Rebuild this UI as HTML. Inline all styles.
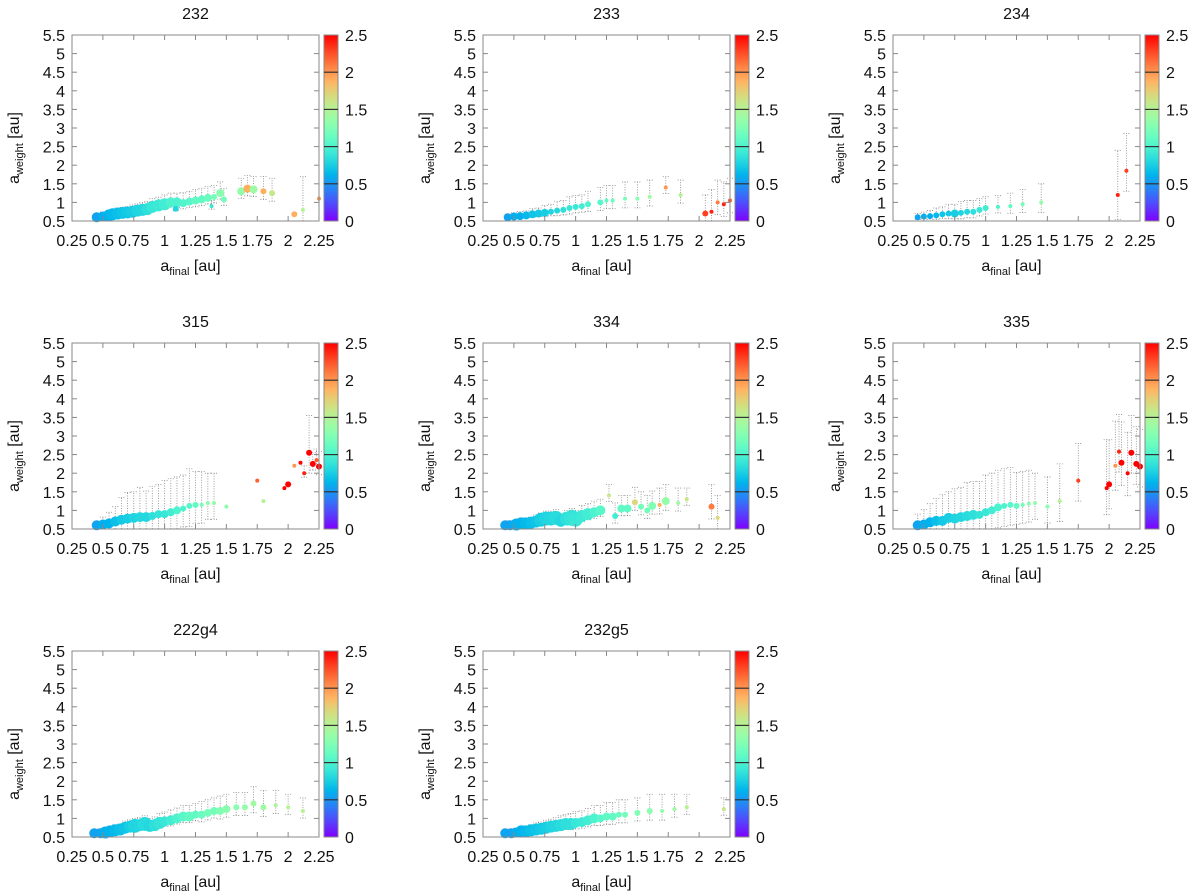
<!DOCTYPE html>
<html><head><meta charset="utf-8"><style>
html,body{margin:0;padding:0;background:#fff;}
svg{display:block;font-family:"Liberation Sans",sans-serif;}
</style></head><body>
<svg id="fig" width="1200" height="894" viewBox="0 0 1200 894" xmlns="http://www.w3.org/2000/svg">
<defs>
<linearGradient id="rainbow" x1="0" y1="1" x2="0" y2="0"></linearGradient>
</defs>
</svg>
<script>
// ---- shared axis data ----
const xTicks = [0.25,0.5,0.75,1,1.25,1.5,1.75,2,2.25];
const xTickLabels = ["0.25","0.5","0.75","1","1.25","1.5","1.75","2","2.25"];
const yTicks = [0.5,1,1.5,2,2.5,3,3.5,4,4.5,5,5.5];
const yTickLabels = ["0.5","1","1.5","2","2.5","3","3.5","4","4.5","5","5.5"];
const cbTicks = [0,0.5,1,1.5,2,2.5];
const cbTickLabels = ["0","0.5","1","1.5","2","2.5"];

// ---- panel 232 ----
const p232_x = [0.45,0.5,0.55,0.58,0.62,0.66,0.7,0.74,0.78,0.82,0.86,0.9,0.95,1.0,1.05,1.1,1.15,1.2,1.25,1.3,1.35,1.4,1.45,1.48,1.62,1.67,1.72,1.8,1.87,2.05,2.12,2.25,1.09,1.38];
const p232_y = [0.6,0.62,0.65,0.68,0.7,0.72,0.73,0.75,0.78,0.8,0.82,0.88,0.92,0.95,1.0,1.0,0.98,1.02,1.05,1.08,1.12,1.15,1.25,1.08,1.3,1.37,1.35,1.3,1.25,0.68,0.8,1.1,0.83,0.9];
const p232_c = [0.55,0.6,0.62,0.65,0.68,0.7,0.72,0.75,0.78,0.8,0.85,0.9,0.92,0.95,1.0,1.0,1.02,1.05,1.1,1.1,1.15,1.2,1.3,1.2,1.35,1.9,1.4,1.9,1.6,1.9,1.5,2.0,0.8,0.9];
const p232_r = [5,5,6,6,6,6,6,6,6,6,6,6,6,6,5,5,4,4,4,4,4,3,4,3,4,4,4,3,3,3,2,2,3,2];
const p232_e = [0.1,0.12,0.12,0.14,0.15,0.15,0.16,0.18,0.18,0.2,0.2,0.22,0.22,0.25,0.25,0.25,0.28,0.28,0.3,0.3,0.3,0.3,0.3,0.3,0.35,0.35,0.35,0.4,0.4,0.0,0.9,0.0,0.1,0.15];

// ---- panel 233 ----
const p233_x = [0.45,0.5,0.55,0.6,0.65,0.7,0.75,0.8,0.85,0.9,0.95,1.0,1.05,1.1,1.2,1.25,1.3,1.4,1.5,1.6,1.73,1.85,2.05,2.1,2.15,2.2,2.25];
const p233_y = [0.6,0.62,0.63,0.65,0.68,0.7,0.72,0.75,0.78,0.8,0.85,0.88,0.9,0.95,1.0,1.05,1.05,1.1,1.1,1.15,1.4,1.2,0.7,0.75,1.0,0.95,1.05];
const p233_c = [0.55,0.6,0.6,0.65,0.7,0.72,0.75,0.78,0.8,0.85,0.9,0.92,0.95,1.0,1.05,1.1,1.15,1.2,1.3,1.4,2.0,1.5,2.3,2.4,2.1,2.4,2.2];
const p233_r = [4,4,4,4,4,4,4,3,3,3,3,3,3,3,3,2,2,2,2,2,2,2,3,2,2,2,2];
const p233_e = [0.08,0.1,0.12,0.12,0.15,0.15,0.2,0.2,0.25,0.25,0.3,0.3,0.3,0.35,0.4,0.4,0.4,0.45,0.45,0.45,0.3,0.4,0.5,0.6,0.6,0.6,0.6];

// ---- panel 234 ----
const p234_x = [0.45,0.5,0.55,0.6,0.65,0.7,0.75,0.8,0.85,0.9,0.95,1.0,1.1,1.2,1.3,1.45,2.07,2.14];
const p234_y = [0.6,0.62,0.63,0.65,0.68,0.7,0.7,0.72,0.75,0.75,0.8,0.85,0.88,0.9,0.95,1.0,1.2,1.85];
const p234_c = [0.55,0.6,0.6,0.65,0.7,0.72,0.75,0.78,0.8,0.85,0.9,0.95,1.0,1.1,1.2,1.35,2.4,2.3];
const p234_r = [3,3,3,3,3,3,4,3,3,3,3,3,2,2,2,2,2,2];
const p234_e = [0.1,0.12,0.15,0.2,0.2,0.25,0.25,0.3,0.3,0.3,0.3,0.3,0.3,0.35,0.4,0.5,1.2,1.0];

// ---- panel 315 ----
const p315_x = [0.45,0.5,0.55,0.6,0.65,0.7,0.75,0.8,0.85,0.9,0.95,1.0,1.05,1.1,1.15,1.2,1.25,1.3,1.35,1.4,1.5,1.75,1.8,1.97,2.0,2.05,2.1,2.13,2.17,2.2,2.23,2.25];
const p315_y = [0.6,0.62,0.65,0.7,0.75,0.78,0.8,0.82,0.82,0.85,0.9,0.9,0.95,1.0,1.05,1.12,1.15,1.15,1.2,1.2,1.1,1.8,1.25,1.6,1.7,2.2,2.28,2.0,2.55,2.25,2.35,2.18];
const p315_c = [0.55,0.6,0.62,0.68,0.72,0.75,0.78,0.8,0.8,0.85,0.88,0.9,0.95,1.0,1.0,1.05,1.1,1.2,1.3,1.35,1.3,2.2,1.5,2.5,2.5,2.0,2.5,2.4,2.5,2.5,2.2,2.5];
const p315_r = [5,5,5,5,5,5,5,5,5,4,4,4,4,4,3,3,3,2,2,2,2,2,2,2,3,2,2,2,3,3,2,3];
const p315_e = [0.1,0.2,0.3,0.4,0.6,0.7,0.7,0.8,0.7,0.8,0.8,0.9,0.9,0.9,0.9,1.0,0.9,0.9,0.8,0.8,0,0,0,0,0,0,0,0.2,1.0,0.3,0.3,0.4];

// ---- panel 334 ----
const p334_x = [0.43,0.47,0.52,0.56,0.6,0.64,0.68,0.72,0.76,0.8,0.84,0.88,0.93,0.97,1.0,1.05,1.1,1.15,1.2,1.27,1.32,1.37,1.42,1.48,1.53,1.58,1.62,1.68,1.73,1.83,1.9,2.1,2.15];
const p334_y = [0.6,0.6,0.62,0.65,0.65,0.67,0.7,0.75,0.78,0.78,0.8,0.72,0.78,0.8,0.75,0.85,0.9,0.95,1.0,1.4,0.85,1.05,1.05,1.22,1.1,1.0,1.12,1.15,1.25,1.2,1.3,1.1,0.8];
const p334_c = [0.55,0.55,0.6,0.62,0.65,0.68,0.7,0.75,0.78,0.8,0.82,0.8,0.85,0.88,0.9,0.92,0.95,1.0,1.05,1.6,0.95,1.1,1.1,1.7,1.2,1.2,1.25,1.9,1.35,1.4,1.6,2.1,1.7];
const p334_r = [5,5,6,6,6,6,6,7,7,7,7,6,7,8,7,6,6,5,5,2,3,4,4,3,3,3,4,2,4,2,2,3,2];
const p334_e = [0.1,0.12,0.12,0.14,0.15,0.15,0.18,0.18,0.2,0.2,0.22,0.2,0.22,0.25,0.25,0.28,0.28,0.3,0.3,0.3,0.35,0.35,0.35,0.4,0.4,0.4,0.4,0.45,0.45,0.4,0.3,0.6,0.6];

// ---- panel 335 ----
const p335_x = [0.45,0.5,0.55,0.6,0.65,0.7,0.75,0.8,0.85,0.9,0.95,1.0,1.05,1.1,1.15,1.2,1.25,1.3,1.35,1.4,1.5,1.6,1.75,1.98,2.0,2.05,2.08,2.1,2.15,2.18,2.22,2.25];
const p335_y = [0.6,0.62,0.68,0.72,0.72,0.8,0.78,0.82,0.85,0.88,0.88,0.95,1.0,1.08,1.12,1.15,1.12,1.15,1.18,1.2,1.1,1.25,1.8,1.6,1.7,2.2,2.58,2.28,2.0,2.55,2.25,2.18];
const p335_c = [0.55,0.6,0.62,0.68,0.72,0.75,0.78,0.8,0.82,0.85,0.88,0.9,0.95,1.0,1.0,1.05,1.1,1.2,1.3,1.35,1.3,1.5,2.3,2.5,2.5,2.0,2.4,2.5,2.5,2.5,2.5,2.5];
const p335_r = [5,5,5,5,5,5,5,5,5,5,4,4,4,4,3,3,3,2,2,2,2,2,2,2,3,2,2,3,2,3,3,3];
const p335_e = [0.3,0.4,0.5,0.6,0.7,0.7,0.8,0.8,0.9,0.9,0.9,1.0,1.0,1.0,1.0,1.0,0.9,0.9,0.9,0.8,0.8,1.0,1.0,1.3,1.2,1.2,1.0,1.1,1.1,1.0,1.0,1.0];

// ---- panel 222g4 ----
const p222g4_x = [0.43,0.48,0.52,0.56,0.6,0.64,0.68,0.72,0.76,0.8,0.84,0.88,0.92,0.96,1.0,1.05,1.1,1.15,1.2,1.25,1.3,1.35,1.4,1.45,1.5,1.58,1.65,1.72,1.8,1.9,2.0,2.12];
const p222g4_y = [0.6,0.6,0.62,0.65,0.68,0.7,0.75,0.78,0.8,0.82,0.85,0.8,0.82,0.88,0.92,0.95,1.0,1.05,1.05,1.1,1.1,1.15,1.2,1.2,1.25,1.3,1.3,1.4,1.3,1.35,1.3,1.2];
const p222g4_c = [0.55,0.55,0.6,0.62,0.65,0.68,0.7,0.75,0.78,0.8,0.82,0.8,0.85,0.88,0.9,0.95,1.0,1.05,1.1,1.1,1.15,1.2,1.2,1.25,1.3,1.3,1.35,1.4,1.4,1.45,1.5,1.5];
const p222g4_r = [5,5,6,6,6,6,6,6,7,6,7,6,6,6,5,5,5,5,5,4,4,4,4,4,4,3,3,3,3,2,2,2];
const p222g4_e = [0.1,0.12,0.12,0.14,0.15,0.15,0.18,0.18,0.2,0.2,0.22,0.2,0.22,0.25,0.25,0.28,0.28,0.3,0.3,0.3,0.35,0.35,0.35,0.4,0.4,0.4,0.4,0.45,0.45,0.4,0.35,0.35];

// ---- panel 232g5 ----
const p232g5_x = [0.43,0.48,0.52,0.56,0.6,0.64,0.68,0.72,0.76,0.8,0.84,0.88,0.92,0.96,1.0,1.05,1.1,1.15,1.2,1.25,1.3,1.35,1.4,1.5,1.6,1.7,1.8,1.9,2.2];
const p232g5_y = [0.6,0.6,0.62,0.65,0.65,0.68,0.7,0.72,0.75,0.78,0.8,0.82,0.85,0.85,0.88,0.9,0.95,1.0,1.0,1.05,1.05,1.1,1.1,1.15,1.2,1.2,1.25,1.3,1.25];
const p232g5_c = [0.55,0.55,0.6,0.62,0.65,0.68,0.7,0.72,0.75,0.78,0.8,0.82,0.85,0.85,0.9,0.92,0.95,1.0,1.05,1.1,1.1,1.15,1.2,1.25,1.3,1.35,1.4,1.5,1.6];
const p232g5_r = [5,5,5,6,6,6,6,6,6,6,6,6,6,6,5,5,5,5,4,4,4,3,3,3,3,2,2,2,2];
const p232g5_e = [0.1,0.12,0.12,0.14,0.15,0.15,0.18,0.18,0.2,0.2,0.22,0.25,0.25,0.28,0.3,0.3,0.32,0.35,0.35,0.38,0.38,0.4,0.4,0.4,0.45,0.45,0.4,0.35,0.3];

const NS = "http://www.w3.org/2000/svg";
const svg = document.getElementById('fig');
const W = 247, H = 186, XMIN = 0.25, XMAX = 2.25, YMIN = 0.5, YMAX = 5.5, CMAX = 2.5;

function cmap(v){
  const t = Math.max(0, Math.min(1, v / CMAX));
  const r = Math.min(1, Math.abs(2*t - 0.5));
  const g = Math.max(0, Math.sin(Math.PI*t));
  const b = Math.max(0, Math.cos(Math.PI*t/2));
  return 'rgb(' + Math.round(r*255) + ',' + Math.round(g*255) + ',' + Math.round(b*255) + ')';
}
(function(){
  const grad = document.getElementById('rainbow');
  for (let i = 0; i <= 20; i++) {
    const s = document.createElementNS(NS, 'stop');
    s.setAttribute('offset', (i/20));
    s.setAttribute('stop-color', cmap(CMAX*i/20));
    grad.appendChild(s);
  }
})();

function mk(tag, attrs, parent){
  const e = document.createElementNS(NS, tag);
  for (const k in attrs) e.setAttribute(k, attrs[k]);
  (parent || svg).appendChild(e);
  return e;
}

function drawPanel(ox, oy, title, xs, ys, cs, rs, es){
  const g = mk('g', {});
  
  
  const sx = v => ox + (v - XMIN) / (XMAX - XMIN) * W;
  const sy = v => oy + H - (v - YMIN) / (YMAX - YMIN) * H;

  const t = mk('text', {x: ox + W/2, y: oy - 16, 'font-size': 16, 'text-anchor': 'middle', fill: '#111'}, g);
  t.textContent = title;
  
  

  // error bars
  const eg = mk('g', {stroke: '#888', 'stroke-width': 0.8, 'stroke-dasharray': '1,1.5'}, g);
  
  
  for (let i = 0; i < xs.length; i++) {
    if (!es[i]) continue;
    const x = sx(xs[i]);
    const lo = Math.max(YMIN, ys[i] - es[i]*0.55), hi = ys[i] + es[i];
    const l = mk('line', {x1: x, x2: x, y1: sy(lo), y2: sy(hi)}, eg);
    
    
    const c1 = mk('line', {x1: x-3, x2: x+3, y1: sy(hi), y2: sy(hi)}, eg);
    
    
    const c2 = mk('line', {x1: x-3, x2: x+3, y1: sy(lo), y2: sy(lo)}, eg);
    
    
  }
  // points
  for (let i = 0; i < xs.length; i++) {
    const p = mk('circle', {cx: sx(xs[i]), cy: sy(ys[i]), r: rs[i], fill: cmap(cs[i])}, g);
    
    
  }
  // frame
  const fr = mk('rect', {x: ox, y: oy, width: W, height: H, fill: 'none', stroke: '#888', 'stroke-width': 1}, g);
  
  
  // x ticks
  for (let i = 0; i < xTicks.length; i++) {
    const x = sx(xTicks[i]);
    mk('line', {x1: x, x2: x, y1: oy+H, y2: oy+H-5, stroke: '#888'}, g);
    mk('line', {x1: x, x2: x, y1: oy, y2: oy+5, stroke: '#888'}, g);
    const lb = mk('text', {x: x, y: oy + H + 25, 'font-size': 16, 'text-anchor': 'middle', fill: '#111'}, g);
    lb.textContent = xTickLabels[i];
    
    
  }
  // y ticks
  for (let i = 0; i < yTicks.length; i++) {
    const y = sy(yTicks[i]);
    mk('line', {x1: ox, x2: ox+5, y1: y, y2: y, stroke: '#888'}, g);
    mk('line', {x1: ox+W, x2: ox+W-5, y1: y, y2: y, stroke: '#888'}, g);
    const lb = mk('text', {x: ox - 7, y: y + 6, 'font-size': 16, 'text-anchor': 'end', fill: '#111'}, g);
    lb.textContent = yTickLabels[i];
    
    
  }
  // axis titles
  const xt = mk('text', {x: ox + W/2 - 5, y: oy + H + 50, 'font-size': 16, 'text-anchor': 'middle', fill: '#111'}, g);
  xt.innerHTML = 'a<tspan font-size="11" dy="4">final</tspan><tspan dy="-4"> [au]</tspan>';
  
  
  const yt = mk('text', {x: 0, y: 0, 'font-size': 16, 'text-anchor': 'middle', fill: '#111', transform: 'translate(' + (ox - 53) + ',' + (oy + H/2 + 20) + ') rotate(-90)'}, g);
  yt.innerHTML = 'a<tspan font-size="11" dy="4">weight</tspan><tspan dy="-4"> [au]</tspan>';
  
  
  // colorbar
  const cx0 = ox + W + 5, cw = 14;
  const cb = mk('rect', {x: cx0, y: oy, width: cw, height: H, fill: 'url(#rainbow)', stroke: '#888', 'stroke-width': 1}, g);
  
  
  for (let i = 0; i < cbTicks.length; i++) {
    const y = oy + H - cbTicks[i] / CMAX * H;
    if (i > 0 && i < cbTicks.length - 1) mk('line', {x1: cx0, x2: cx0+cw, y1: y, y2: y, stroke: '#333', 'stroke-width': 1.2}, g);
    const lb = mk('text', {x: cx0 + cw + 7, y: y + 6, 'font-size': 16, fill: '#111'}, g);
    lb.textContent = cbTickLabels[i];
    
    
  }
}

const colX = [72, 483, 893], rowY = [35, 343, 651];
drawPanel(colX[0], rowY[0], '232', p232_x, p232_y, p232_c, p232_r, p232_e);
drawPanel(colX[1], rowY[0], '233', p233_x, p233_y, p233_c, p233_r, p233_e);
drawPanel(colX[2], rowY[0], '234', p234_x, p234_y, p234_c, p234_r, p234_e);
drawPanel(colX[0], rowY[1], '315', p315_x, p315_y, p315_c, p315_r, p315_e);
drawPanel(colX[1], rowY[1], '334', p334_x, p334_y, p334_c, p334_r, p334_e);
drawPanel(colX[2], rowY[1], '335', p335_x, p335_y, p335_c, p335_r, p335_e);
drawPanel(colX[0], rowY[2], '222g4', p222g4_x, p222g4_y, p222g4_c, p222g4_r, p222g4_e);
drawPanel(colX[1], rowY[2], '232g5', p232g5_x, p232g5_y, p232g5_c, p232g5_r, p232g5_e);
</script>
</body></html>
